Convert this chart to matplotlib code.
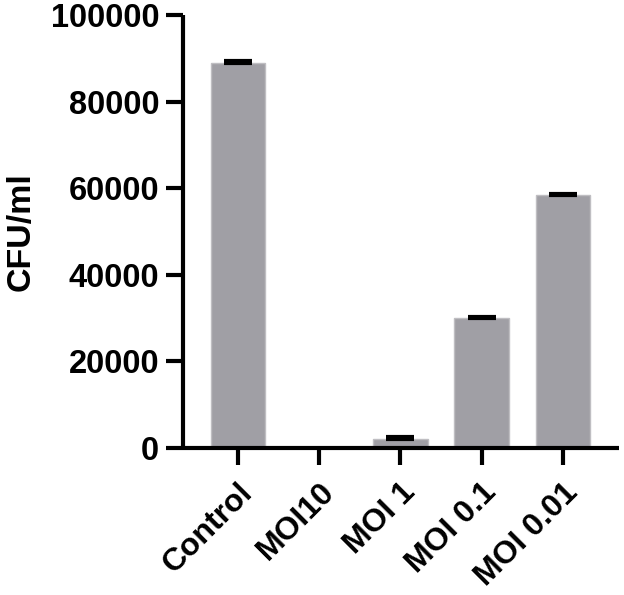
import matplotlib.pyplot as plt
import numpy as np

plt.rcParams['font.family'] = ['Liberation Sans', 'DejaVu Sans']
plt.rcParams['font.weight'] = 'bold'

groups = ["Control", "MOI10", "MOI 1", "MOI 0.1", "MOI 0.01"]
cfu = [89000, 0, 2200, 30000, 58400]
cfu_err = [300, 0, 350, 300, 200]
yticks = [0, 20000, 40000, 60000, 80000, 100000]

fig = plt.figure(figsize=(6.24, 5.95), dpi=100)
ax = fig.add_axes([0.293, 0.247, 0.699, 0.728])

x = np.arange(len(groups))
ax.bar(x, cfu, width=0.67, color="#A09FA5", edgecolor="#BFBEC2", linewidth=1)
for xi, v, e in zip(x, cfu, cfu_err):
    if v > 0:
        ax.errorbar(xi, v, yerr=[[0], [e]], fmt="none", ecolor="black",
                    elinewidth=2.5, capsize=10, capthick=3)

ax.set_xlim(-0.677, 4.69)
ax.set_ylim(0, 100000)
ax.set_yticks(yticks)
ax.set_yticklabels([str(t) for t in yticks], fontsize=23.5, fontweight="bold")
ax.set_xticks(x)
ax.set_xticklabels(groups, fontsize=23, fontweight="bold", rotation=45,
                   ha="right", rotation_mode="anchor")
ax.set_ylabel("CFU/ml", fontsize=24.5, fontweight="bold", labelpad=10)

for s in ["top", "right"]:
    ax.spines[s].set_visible(False)
for s in ["left", "bottom"]:
    ax.spines[s].set_linewidth(3)
    ax.spines[s].set_capstyle("butt")
ax.tick_params(axis="both", width=3, length=12)
ax.tick_params(axis="y", pad=5)
ax.tick_params(axis="x", pad=9)

fig.savefig("out.png", dpi=100)
